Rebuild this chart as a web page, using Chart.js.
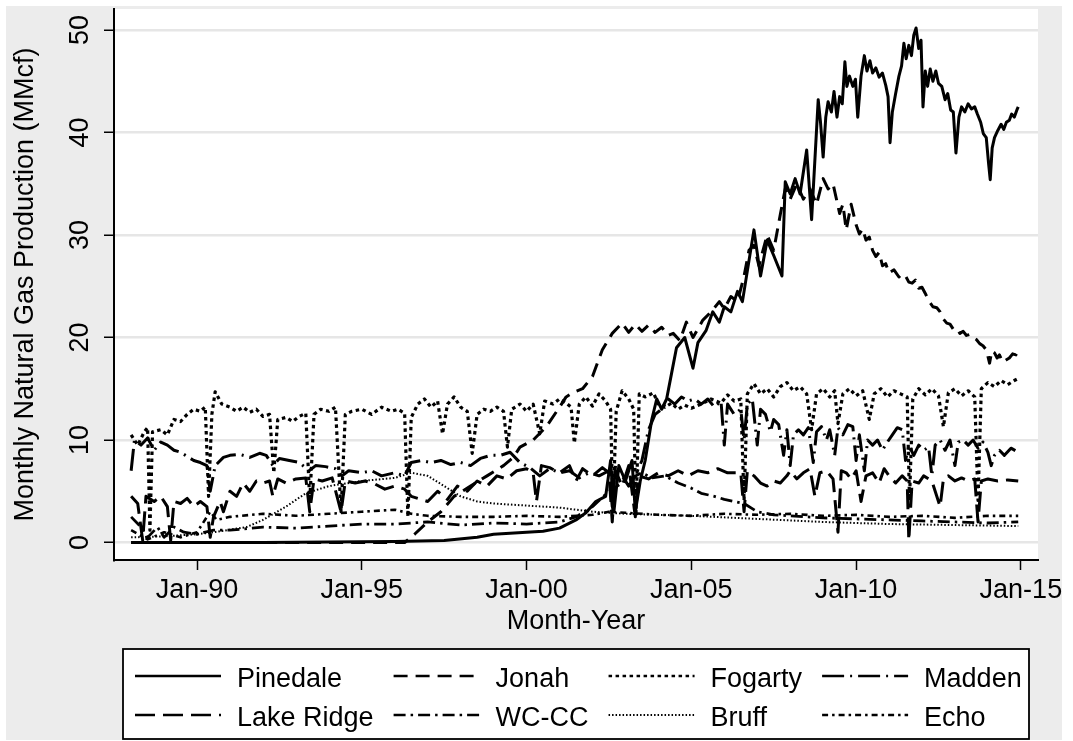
<!DOCTYPE html>
<html>
<head>
<meta charset="utf-8">
<script src="https://cdn.jsdelivr.net/npm/chart.js@4.4.1/dist/chart.umd.min.js"></script>
<style>
  html, body { margin: 0; padding: 0; background: #ffffff; }
  #wrap { width: 1073px; height: 741px; }
</style>
</head>
<body>
<div id="wrap"><canvas id="chart" width="1073" height="741"></canvas></div>
<script>
// Axis ticks
const xTicks = [1990, 1995, 2000, 2005, 2010, 2015];
const xTickLabels = ['Jan-90', 'Jan-95', 'Jan-00', 'Jan-05', 'Jan-10', 'Jan-15'];
const yTicks = [0, 10, 20, 30, 40, 50];

const seriesNames = ['Pinedale', 'Jonah', 'Fogarty', 'Madden', 'Lake Ridge', 'WC-CC', 'Bruff', 'Echo'];

// Monthly production, MMcf: [decimal year, value]
const pinedale = [
  [1988.0,0],[1990.0,0],[1992.0,0],[1994.0,0.05],[1996.0,0.1],[1997.5,0.2],[1998.5,0.5],[1999.0,0.8],
  [1999.5,0.9],[2000.0,1.0],[2000.5,1.1],[2001.0,1.4],[2001.5,2.2],[2001.8,2.9],[2002.1,4.0],[2002.4,4.5],
  [2002.55,8.0],[2002.65,3.0],[2002.8,7.5],[2003.0,6.0],[2003.2,8.0],[2003.3,3.0],[2003.45,6.0],[2003.6,8.0],
  [2003.8,12.0],[2003.95,14.0],[2004.1,13.0],[2004.25,14.0],[2004.4,16.5],[2004.55,19.0],[2004.8,20.0],
  [2005.05,17.0],[2005.2,19.5],[2005.45,20.7],[2005.65,22.5],[2005.85,21.5],[2006.0,23.0],[2006.2,22.5],
  [2006.4,24.5],[2006.55,23.5],[2006.75,27.5],[2006.9,30.5],[2007.1,26.0],[2007.3,29.5],[2007.5,28.0],
  [2007.75,26.0],[2007.85,35.2],[2008.0,34.0],[2008.15,35.5],[2008.3,34.0],[2008.5,38.3],[2008.65,31.5],
  [2008.85,43.2],[2008.92,41.0],[2009.0,37.6],[2009.08,41.5],[2009.15,43.0],[2009.25,42.0],[2009.33,44.0],
  [2009.42,41.5],[2009.5,43.5],[2009.58,42.8],[2009.66,46.9],[2009.72,44.5],[2009.8,45.5],[2009.9,44.5],
  [2009.98,45.2],[2010.05,41.5],[2010.15,45.5],[2010.25,47.5],[2010.33,46.0],[2010.42,47.0],[2010.5,45.8],
  [2010.6,46.3],[2010.7,45.4],[2010.8,45.8],[2010.9,44.6],[2010.97,43.5],[2011.03,39.0],[2011.1,42.0],
  [2011.2,43.8],[2011.3,45.5],[2011.38,46.5],[2011.45,48.7],[2011.52,47.2],[2011.6,48.5],[2011.68,47.5],
  [2011.75,49.5],[2011.82,50.2],[2011.9,48.2],[2011.97,49.0],[2012.03,42.5],[2012.1,46.0],[2012.17,44.5],
  [2012.25,46.2],[2012.33,45.0],[2012.42,46.0],[2012.5,44.8],[2012.6,44.5],[2012.7,43.2],[2012.78,43.8],
  [2012.87,42.2],[2012.95,42.0],[2013.03,38.0],[2013.12,41.5],[2013.2,42.5],[2013.3,42.0],[2013.4,42.8],
  [2013.5,42.3],[2013.6,42.5],[2013.68,41.8],[2013.78,41.0],[2013.86,39.9],[2013.95,39.5],[2014.02,37.0],
  [2014.07,35.4],[2014.13,38.5],[2014.2,39.5],[2014.3,40.2],[2014.4,40.8],[2014.48,40.3],[2014.56,41.0],
  [2014.65,41.2],[2014.72,41.8],[2014.8,41.5],[2014.88,42.2],[2014.92,42.5]
];

const jonah = [
  [1988.0,0],[1996.3,0],[1996.6,0.8],[1997.0,2.0],[1997.4,3.0],[1997.8,4.5],[1998.3,5.5],[1998.8,6.5],
  [1999.3,7.5],[1999.6,8.3],[1999.8,9.3],[2000.2,10.0],[2000.6,11.3],[2001.0,13.2],[2001.2,14.2],[2001.4,14.6],
  [2001.7,15.0],[2002.0,16.2],[2002.3,18.8],[2002.6,20.4],[2002.9,21.4],[2003.1,20.5],[2003.3,21.3],
  [2003.5,20.6],[2003.7,21.2],[2003.9,20.5],[2004.1,21.0],[2004.3,20.2],[2004.45,20.4],[2004.65,19.7],
  [2004.85,21.5],[2005.05,20.0],[2005.35,21.7],[2005.6,22.5],[2005.85,23.5],[2006.0,22.8],[2006.2,24.0],
  [2006.4,23.5],[2006.6,26.0],[2006.75,28.5],[2006.9,29.0],[2007.05,27.0],[2007.3,30.0],[2007.5,28.5],
  [2007.7,32.0],[2007.85,34.5],[2008.0,33.5],[2008.2,35.0],[2008.4,33.5],[2008.6,34.5],[2008.8,33.0],
  [2009.0,35.5],[2009.15,34.5],[2009.3,35.0],[2009.5,32.1],[2009.6,33.0],[2009.7,30.5],[2009.85,33.0],
  [2010.0,31.0],[2010.1,30.1],[2010.2,30.6],[2010.3,29.5],[2010.4,29.8],[2010.5,28.5],[2010.6,27.9],
  [2010.7,28.3],[2010.8,27.0],[2010.9,27.2],[2011.0,26.3],[2011.15,26.6],[2011.3,25.9],[2011.4,26.2],
  [2011.5,26.0],[2011.6,25.4],[2011.7,25.3],[2011.8,25.6],[2011.9,24.8],[2012.0,24.9],[2012.1,24.3],
  [2012.2,23.6],[2012.33,23.0],[2012.45,22.9],[2012.55,22.5],[2012.65,21.8],[2012.75,21.4],[2012.85,21.3],
  [2012.95,20.8],[2013.05,20.9],[2013.15,20.4],[2013.25,20.6],[2013.35,20.2],[2013.45,20.3],[2013.55,20.0],
  [2013.65,19.8],[2013.75,19.4],[2013.85,19.2],[2013.95,18.8],[2014.05,17.5],[2014.12,18.7],[2014.2,18.5],
  [2014.28,18.0],[2014.35,18.3],[2014.45,17.6],[2014.55,17.8],[2014.65,18.0],[2014.75,18.4],[2014.85,18.3],
  [2014.92,18.8]
];

const fogarty = [
  [1988.0,10.5],[1988.2,9.5],[1988.4,10.8],[1988.5,11.2],[1988.57,1.2],[1988.65,10.8],[1988.9,11.0],
  [1989.1,10.5],[1989.3,12.0],[1989.5,11.8],[1989.7,12.5],[1989.9,13.0],[1990.1,12.8],[1990.25,13.2],
  [1990.35,4.5],[1990.45,12.5],[1990.55,14.7],[1990.75,13.5],[1991.0,13.2],[1991.2,12.8],[1991.4,13.2],
  [1991.6,12.7],[1991.8,13.0],[1992.0,12.3],[1992.2,12.5],[1992.33,6.8],[1992.45,12.0],[1992.7,12.2],
  [1992.9,11.8],[1993.1,12.3],[1993.3,12.6],[1993.42,4.0],[1993.55,12.5],[1993.75,13.0],[1994.0,12.8],
  [1994.2,13.2],[1994.37,3.0],[1994.5,12.5],[1994.7,12.8],[1995.0,13.0],[1995.3,12.5],[1995.6,13.2],
  [1995.9,12.8],[1996.1,13.0],[1996.3,12.6],[1996.4,2.5],[1996.5,12.2],[1996.7,13.5],[1996.9,14.0],
  [1997.1,13.2],[1997.3,13.8],[1997.45,10.6],[1997.6,13.5],[1997.8,14.2],[1998.0,13.2],[1998.2,12.8],
  [1998.35,8.7],[1998.5,12.5],[1998.7,13.0],[1998.9,12.8],[1999.1,13.2],[1999.3,12.8],[1999.42,9.3],
  [1999.55,13.0],[1999.8,13.5],[2000.0,12.8],[2000.2,13.5],[2000.4,10.6],[2000.55,13.8],[2000.8,13.5],
  [2001.0,14.0],[2001.2,13.6],[2001.35,13.2],[2001.45,9.7],[2001.6,13.5],[2001.8,14.2],[2002.0,13.3],
  [2002.2,14.5],[2002.4,13.8],[2002.55,13.0],[2002.62,2.9],[2002.72,12.8],[2002.9,14.8],[2003.1,14.0],
  [2003.25,13.0],[2003.32,2.9],[2003.42,14.5],[2003.6,14.2],[2003.85,14.6],[2004.0,13.5],[2004.2,13.2],
  [2004.4,13.6],[2004.6,13.0],[2004.8,13.4],[2005.0,13.1],[2005.3,13.5],[2005.6,14.0],[2005.9,13.6],
  [2006.1,14.4],[2006.3,13.8],[2006.5,14.0],[2006.6,4.1],[2006.7,14.5],[2006.9,15.5],[2007.1,14.5],
  [2007.3,15.0],[2007.5,14.2],[2007.7,15.2],[2007.9,15.6],[2008.1,14.8],[2008.3,15.2],[2008.5,14.5],
  [2008.65,11.0],[2008.8,14.5],[2009.0,15.0],[2009.2,14.2],[2009.35,14.8],[2009.45,11.6],[2009.6,14.5],
  [2009.8,15.0],[2010.0,14.3],[2010.2,14.8],[2010.4,12.0],[2010.55,14.5],[2010.75,15.0],[2010.95,14.2],
  [2011.15,14.8],[2011.35,14.5],[2011.55,14.2],[2011.62,4.1],[2011.72,14.0],[2011.9,15.0],[2012.1,14.4],
  [2012.3,15.0],[2012.5,14.3],[2012.65,11.3],[2012.8,14.6],[2013.0,15.0],[2013.2,14.3],[2013.4,14.8],
  [2013.6,14.2],[2013.7,4.1],[2013.8,15.0],[2014.0,15.6],[2014.2,15.2],[2014.4,15.8],[2014.6,15.4],
  [2014.8,15.8],[2014.92,16.0]
];

const madden = [
  [1988.0,7.0],[1988.1,10.0],[1988.3,9.5],[1988.5,10.2],[1988.7,9.0],[1988.9,9.8],[1989.1,9.5],[1989.3,9.0],
  [1989.5,8.8],[1989.7,8.4],[1989.9,8.0],[1990.1,7.8],[1990.3,7.5],[1990.4,5.0],[1990.55,7.5],[1990.8,8.3],
  [1991.0,8.5],[1991.3,8.6],[1991.6,8.3],[1991.9,8.7],[1992.1,8.5],[1992.3,7.5],[1992.5,8.2],[1992.8,8.0],
  [1993.1,7.8],[1993.4,7.0],[1993.6,7.5],[1993.9,7.4],[1994.2,7.2],[1994.4,6.5],[1994.6,7.0],[1995.0,6.8],
  [1995.3,7.0],[1995.6,6.5],[1996.0,6.8],[1996.3,6.5],[1996.5,7.8],[1996.8,8.0],[1997.1,7.8],[1997.4,8.0],
  [1997.7,7.6],[1998.0,7.8],[1998.3,7.5],[1998.6,8.2],[1998.9,8.5],[1999.2,8.5],[1999.5,8.8],[1999.8,7.8],
  [2000.1,7.3],[2000.4,6.5],[2000.7,7.2],[2001.0,6.8],[2001.3,7.0],[2001.6,6.3],[2001.9,6.8],[2002.2,6.5],
  [2002.5,7.0],[2002.6,3.5],[2002.7,7.5],[2002.9,6.5],[2003.1,5.5],[2003.3,6.5],[2003.5,8.0],[2003.7,11.0],
  [2003.9,12.5],[2004.1,13.0],[2004.3,14.0],[2004.5,13.5],[2004.7,14.2],[2004.9,13.8],[2005.1,14.0],
  [2005.3,13.5],[2005.5,14.0],[2005.7,13.2],[2005.9,13.8],[2006.0,9.5],[2006.1,13.5],[2006.3,12.5],
  [2006.5,13.0],[2006.6,10.0],[2006.7,13.5],[2006.85,14.0],[2007.0,9.5],[2007.1,13.0],[2007.25,12.5],
  [2007.4,10.8],[2007.5,12.0],[2007.65,11.5],[2007.8,8.5],[2007.9,11.0],[2008.0,7.5],[2008.1,10.5],
  [2008.25,11.0],[2008.4,10.5],[2008.55,11.2],[2008.7,7.8],[2008.8,10.8],[2008.95,11.3],[2009.1,10.0],
  [2009.2,11.0],[2009.35,8.5],[2009.45,11.2],[2009.6,10.5],[2009.75,11.5],[2009.9,11.3],[2010.0,8.0],
  [2010.1,10.5],[2010.25,7.0],[2010.35,10.0],[2010.5,9.5],[2010.65,10.0],[2010.8,9.0],[2010.95,9.8],
  [2011.1,10.5],[2011.25,11.2],[2011.4,11.0],[2011.5,8.0],[2011.6,9.5],[2011.75,8.5],[2011.9,9.5],
  [2012.05,9.0],[2012.2,9.3],[2012.3,6.5],[2012.4,9.5],[2012.55,10.0],[2012.7,9.0],[2012.85,10.0],
  [2013.0,7.5],[2013.1,9.8],[2013.25,10.0],[2013.4,9.5],[2013.55,10.0],[2013.7,9.2],[2013.85,9.8],
  [2014.0,8.8],[2014.1,7.5],[2014.2,8.5],[2014.35,9.0],[2014.5,8.5],[2014.7,9.2],[2014.92,8.8]
];

const lakeRidge = [
  [1988.0,4.5],[1988.2,3.8],[1988.35,0.2],[1988.45,4.5],[1988.7,4.0],[1988.9,4.5],[1989.1,3.5],[1989.2,0.2],
  [1989.3,4.0],[1989.5,3.8],[1989.7,4.3],[1989.9,3.5],[1990.1,4.0],[1990.3,3.5],[1990.4,0.5],[1990.5,2.5],
  [1990.7,4.0],[1990.8,3.0],[1991.0,5.0],[1991.2,4.5],[1991.4,5.8],[1991.6,5.0],[1991.8,6.0],[1992.0,5.8],
  [1992.2,6.0],[1992.3,4.5],[1992.45,6.2],[1992.7,5.8],[1993.0,6.2],[1993.3,6.3],[1993.42,3.0],[1993.55,6.2],
  [1993.8,6.0],[1994.1,6.3],[1994.37,3.0],[1994.5,6.0],[1994.8,5.8],[1995.1,6.0],[1995.4,5.7],[1995.7,5.2],
  [1996.0,5.5],[1996.3,5.2],[1996.5,4.5],[1997.0,4.0],[1997.3,5.0],[1997.6,4.2],[1997.9,5.5],[1998.2,5.0],
  [1998.5,6.0],[1998.8,5.5],[1999.1,6.5],[1999.4,6.2],[1999.7,7.0],[2000.0,7.2],[2000.2,6.8],[2000.3,4.0],
  [2000.45,7.5],[2000.7,7.3],[2001.0,6.8],[2001.3,7.5],[2001.5,6.0],[2001.7,7.2],[2002.0,6.5],[2002.3,7.3],
  [2002.5,6.8],[2002.6,2.0],[2002.7,7.0],[2002.9,5.5],[2003.1,7.5],[2003.3,2.5],[2003.4,6.5],[2003.7,6.2],
  [2004.0,6.8],[2004.3,6.5],[2004.6,7.0],[2004.9,6.5],[2005.2,7.0],[2005.5,6.8],[2005.8,7.2],[2006.1,6.8],
  [2006.5,6.8],[2006.6,3.0],[2006.7,7.0],[2006.9,6.5],[2007.1,5.8],[2007.3,5.5],[2007.5,6.0],[2007.7,5.8],
  [2007.9,6.5],[2008.0,7.0],[2008.2,6.2],[2008.4,6.8],[2008.6,7.2],[2008.75,4.5],[2008.9,6.8],[2009.1,7.0],
  [2009.3,6.2],[2009.45,1.0],[2009.55,7.0],[2009.7,6.8],[2009.85,6.2],[2010.0,7.0],[2010.15,4.0],[2010.3,6.5],
  [2010.5,6.8],[2010.7,5.8],[2010.85,7.2],[2011.0,6.5],[2011.2,5.8],[2011.4,6.5],[2011.55,6.0],[2011.6,0.2],
  [2011.7,6.0],[2011.9,5.8],[2012.05,6.5],[2012.3,6.0],[2012.55,3.5],[2012.65,6.2],[2012.8,6.5],[2013.0,6.0],
  [2013.2,6.3],[2013.4,6.0],[2013.6,6.2],[2013.7,2.0],[2013.8,6.0],[2014.0,6.2],[2014.3,6.0],[2014.6,6.1],
  [2014.92,6.0]
];

const wcCc = [
  [1988.0,2.5],[1988.3,1.5],[1988.5,0.5],[1988.8,1.5],[1989.0,0.5],[1989.3,1.5],[1989.6,1.0],[1990.0,0.8],
  [1990.5,1.2],[1991.0,1.2],[1992.0,1.5],[1993.0,1.4],[1994.0,1.6],[1995.0,1.8],[1996.0,1.8],[1997.0,2.0],
  [1998.0,1.7],[1999.0,1.9],[2000.0,1.8],[2001.0,2.0],[2001.5,2.5],[2002.0,3.5],[2002.5,5.0],[2003.0,6.0],
  [2003.5,6.8],[2003.8,6.3],[2004.2,6.5],[2004.6,5.8],[2005.0,5.3],[2005.3,4.8],[2005.7,4.5],[2006.0,4.2],
  [2006.3,4.0],[2006.6,3.8],[2007.0,3.0],[2007.5,2.7],[2008.0,2.6],[2009.0,2.4],[2010.0,2.3],[2011.0,2.2],
  [2012.0,2.1],[2013.0,2.0],[2014.0,1.9],[2014.92,2.0]
];

const bruff = [
  [1988.0,0.5],[1989.0,0.6],[1990.0,0.8],[1990.5,1.0],[1991.5,1.5],[1992.0,2.2],[1992.7,3.5],[1993.3,4.8],
  [1994.0,5.5],[1995.0,6.0],[1996.0,6.3],[1996.5,6.8],[1997.0,6.5],[1997.5,5.5],[1998.0,4.5],[1998.5,4.0],
  [1999.0,3.8],[2000.0,3.6],[2001.0,3.4],[2001.5,3.2],[2002.0,3.0],[2003.0,2.8],[2005.0,2.6],[2007.0,2.3],
  [2009.0,2.0],[2011.0,1.8],[2013.0,1.7],[2014.92,1.6]
];

const echo = [
  [1988.0,1.2],[1988.5,0.3],[1989.0,1.0],[1989.5,0.5],[1990.0,1.0],[1990.4,3.0],[1990.6,2.2],[1991.0,2.5],
  [1992.0,2.8],[1993.0,2.6],[1994.0,2.8],[1995.0,3.0],[1996.0,3.2],[1996.5,2.8],[1997.0,2.6],[1998.0,2.5],
  [1999.0,2.5],[2000.0,2.6],[2001.0,2.5],[2002.0,2.7],[2002.5,3.0],[2003.0,2.9],[2004.0,2.7],[2005.0,2.6],
  [2006.0,2.8],[2007.0,2.7],[2008.0,2.8],[2009.0,2.6],[2010.0,2.7],[2011.0,2.5],[2012.0,2.6],[2013.0,2.4],
  [2014.0,2.6],[2014.92,2.6]
];

const seriesData = [pinedale, jonah, fogarty, madden, lakeRidge, wcCc, bruff, echo];

// Line styles (Stata-like patterns, all black)
const lineDashes = [
  [], [14, 8], [3.5, 3.5], [22, 6, 2, 6], [20, 8], [12, 5, 2.5, 5], [1.5, 2], [6, 4, 2.5, 4]
];
const lineWidths = [3, 3, 3.2, 3, 3, 2.8, 2, 2.6];

const FONT = '27px "Liberation Sans", Arial, Helvetica, sans-serif';

const datasets = seriesNames.map((name, i) => ({
  label: name,
  data: seriesData[i].map(p => ({ x: p[0], y: p[1] })),
  borderColor: '#000000',
  borderWidth: lineWidths[i],
  borderDash: lineDashes[i],
  borderCapStyle: 'butt',
  borderJoinStyle: 'round',
  pointRadius: 0,
  tension: 0,
  fill: false
}));

const framePlugin = {
  id: 'frame',
  beforeDraw(chart) {
    const { ctx, chartArea: a } = chart;
    ctx.save();
    ctx.fillStyle = '#ffffff';
    ctx.fillRect(0, 0, chart.width, chart.height);
    ctx.fillStyle = '#ececec';
    ctx.fillRect(6, 6, chart.width - 17, chart.height - 7);
    ctx.fillStyle = '#ffffff';
    ctx.fillRect(a.left, a.top, a.right - a.left, a.bottom - a.top);
    ctx.restore();
  },
  afterDraw(chart) {
    const { ctx, chartArea: a } = chart;
    const xs = chart.scales.x, ys = chart.scales.y;
    ctx.save();
    ctx.fillStyle = '#000';
    ctx.font = FONT;

    // x tick labels
    ctx.textAlign = 'center';
    ctx.textBaseline = 'alphabetic';
    xTicks.forEach((t, i) => {
      ctx.fillText(xTickLabels[i], xs.getPixelForValue(t), a.bottom + 38);
    });
    // x title
    ctx.fillText('Month-Year', (a.left + a.right) / 2, a.bottom + 69);

    // y tick labels (rotated)
    yTicks.forEach(t => {
      ctx.save();
      ctx.translate(a.left - 26, ys.getPixelForValue(t));
      ctx.rotate(-Math.PI / 2);
      ctx.textAlign = 'center';
      ctx.fillText(String(t), 0, 0);
      ctx.restore();
    });
    // y title
    ctx.save();
    ctx.translate(33, (a.top + a.bottom) / 2);
    ctx.rotate(-Math.PI / 2);
    ctx.textAlign = 'center';
    ctx.fillText('Monthly Natural Gas Production (MMcf)', 0, 0);
    ctx.restore();

    // legend box
    const box = { left: 123, top: 649, right: 1029, bottom: 739 };
    ctx.fillStyle = '#ffffff';
    ctx.fillRect(box.left, box.top, box.right - box.left, box.bottom - box.top);
    ctx.strokeStyle = '#000';
    ctx.lineWidth = 1.8;
    ctx.strokeRect(box.left, box.top, box.right - box.left, box.bottom - box.top);

    const sampleLen = 86, textGap = 16, colGap = 20;
    const rowY = [676, 715];
    const colX = [box.left + 12];
    for (let c = 0; c < 3; c++) {
      const w = Math.max(ctx.measureText(seriesNames[c]).width, ctx.measureText(seriesNames[c + 4]).width);
      colX.push(colX[c] + sampleLen + textGap + w + colGap);
    }
    chart.data.datasets.forEach((ds, i) => {
      const c = i % 4, r = Math.floor(i / 4);
      const x0 = colX[c], y0 = rowY[r];
      ctx.save();
      ctx.strokeStyle = '#000';
      ctx.lineWidth = Math.min(ds.borderWidth, 2.6);
      ctx.lineCap = 'butt';
      ctx.setLineDash(ds.borderDash);
      ctx.beginPath();
      ctx.moveTo(x0, y0);
      ctx.lineTo(x0 + sampleLen, y0);
      ctx.stroke();
      ctx.restore();
      ctx.fillStyle = '#000';
      ctx.textAlign = 'left';
      ctx.textBaseline = 'alphabetic';
      ctx.fillText(ds.label, x0 + sampleLen + textGap, y0 + 11);
    });
    ctx.restore();
  }
};

new Chart(document.getElementById('chart'), {
  type: 'line',
  data: { datasets },
  plugins: [framePlugin],
  options: {
    responsive: false,
    animation: false,
    devicePixelRatio: 1,
    layout: { padding: { left: 0, top: 9, right: 35, bottom: 0 } },
    plugins: { legend: { display: false }, tooltip: { enabled: false } },
    scales: {
      x: {
        type: 'linear',
        min: 1987.48,
        max: 2015.52,
        afterFit(s) { s.height = 181; },
        afterBuildTicks(s) { s.ticks = xTicks.map(v => ({ value: v })); },
        ticks: { display: false },
        grid: { display: true, drawOnChartArea: false, drawTicks: true, tickLength: 10, tickColor: '#000', tickWidth: 1.5 },
        border: { display: true, color: '#000', width: 2 }
      },
      y: {
        type: 'linear',
        min: -1.71,
        max: 52.05,
        afterFit(s) { s.width = 114; },
        afterBuildTicks(s) { s.ticks = yTicks.map(v => ({ value: v })); },
        ticks: { display: false },
        grid: { display: true, drawOnChartArea: true, color: '#e6e6e6', lineWidth: 2.5, drawTicks: true, tickLength: 10, tickColor: '#000', tickWidth: 1.5 },
        border: { display: true, color: '#000', width: 2 }
      }
    }
  }
});
</script>
</body>
</html>
